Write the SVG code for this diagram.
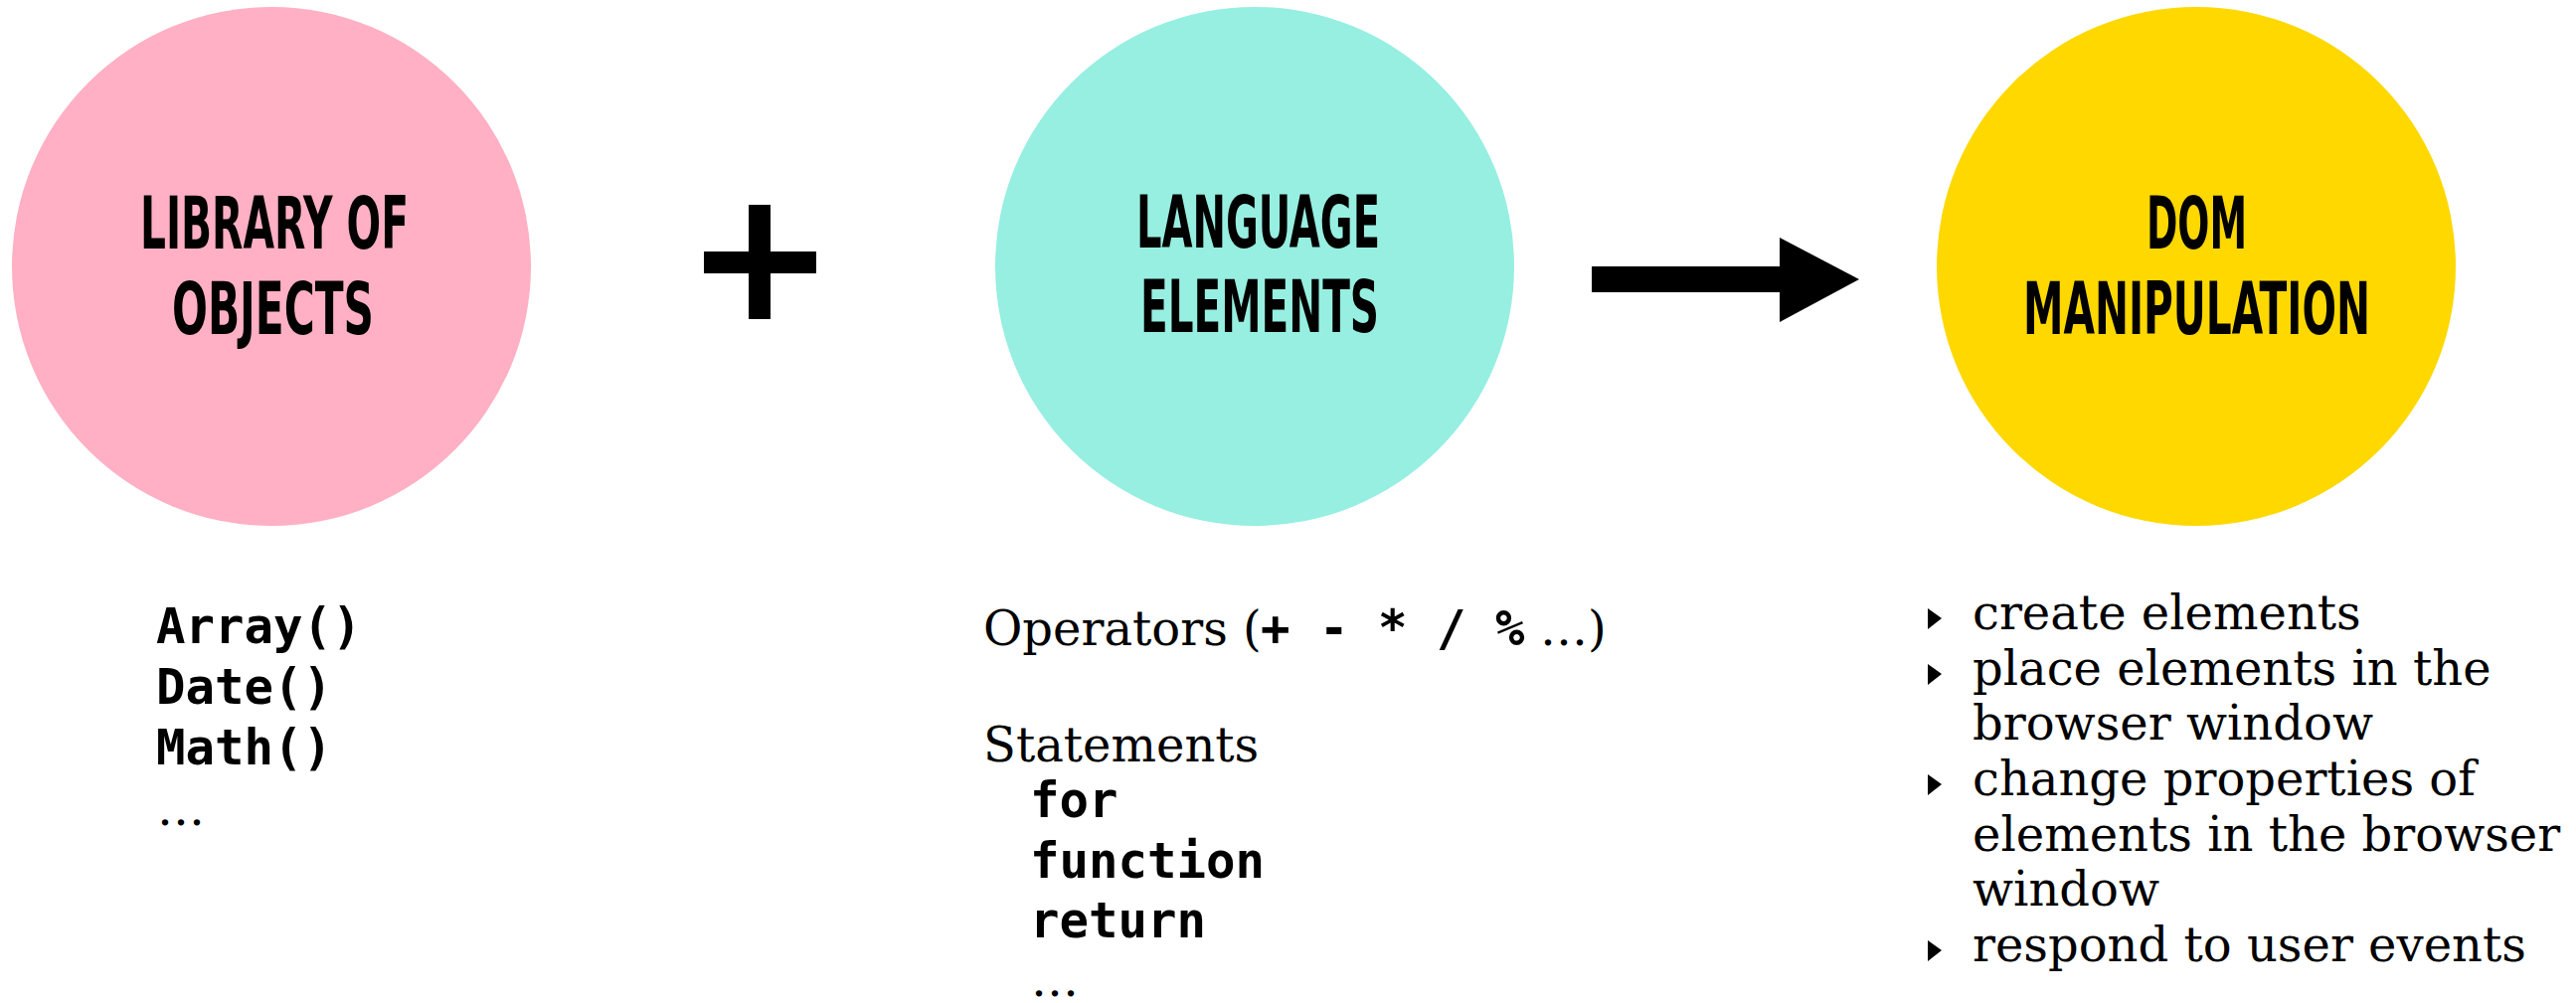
<svg xmlns="http://www.w3.org/2000/svg" width="2591" height="1009" viewBox="0 0 2591 1009">
<style>
.head{font-family:"DejaVu Sans Condensed","DejaVu Sans",sans-serif;font-weight:bold;font-size:73px;fill:#000}
.mono{font-family:"DejaVu Sans Mono",monospace;font-weight:bold;font-size:49px;fill:#000}
.serif{font-family:"DejaVu Serif","Liberation Serif",serif;font-size:48px;fill:#000}
.bul{fill:#000}
</style>
<rect width="2591" height="1009" fill="#fff"/>
<g id="node-library">
<circle cx="273" cy="268" r="261" fill="#FFB0C4"/>
<text class="head" x="141" y="250" textLength="270" lengthAdjust="spacingAndGlyphs">LIBRARY OF</text>
<text class="head" x="173" y="336" textLength="203" lengthAdjust="spacingAndGlyphs">OBJECTS</text>
<text class="mono" x="157" y="647">Array()</text>
<text class="mono" x="157" y="708">Date()</text>
<text class="mono" x="157" y="769">Math()</text>
<text class="serif" x="158" y="830">…</text>
</g>
<g id="node-language">
<circle cx="1262" cy="268" r="261" fill="#96EFE0"/>
<text class="head" x="1143" y="249" textLength="245" lengthAdjust="spacingAndGlyphs">LANGUAGE</text>
<text class="head" x="1147" y="334" textLength="240" lengthAdjust="spacingAndGlyphs">ELEMENTS</text>
<text class="serif" x="989" y="649">Operators (</text>
<text class="mono" x="1268" y="649">+ - * / %</text>
<text class="serif" x="1549" y="649">…)</text>
<text class="serif" x="989" y="766">Statements</text>
<text class="mono" x="1036" y="822">for</text>
<text class="mono" x="1036" y="883">function</text>
<text class="mono" x="1036" y="943">return</text>
<text class="serif" x="1037" y="1002">…</text>
</g>
<g id="node-dom">
<circle cx="2209" cy="268" r="261" fill="#FFD800"/>
<text class="head" x="2159" y="250" textLength="101" lengthAdjust="spacingAndGlyphs">DOM</text>
<text class="head" x="2035" y="336" textLength="349" lengthAdjust="spacingAndGlyphs">MANIPULATION</text>
<g class="bul">
<polygon points="1939,612 1953,622 1939,633"/>
<polygon points="1939,668 1953,678 1939,689"/>
<polygon points="1939,779 1953,789 1939,800"/>
<polygon points="1939,946 1953,956 1939,967"/>
</g>
<text class="serif" x="1984" y="633">create elements</text>
<text class="serif" x="1984" y="689">place elements in the</text>
<text class="serif" x="1984" y="744">browser window</text>
<text class="serif" x="1984" y="800">change properties of</text>
<text class="serif" x="1984" y="856">elements in the browser</text>
<text class="serif" x="1984" y="911">window</text>
<text class="serif" x="1984" y="967">respond to user events</text>
</g>
<g id="connectors">
<rect x="753" y="206" width="22" height="115" fill="#000"/>
<rect x="708" y="253" width="113" height="22" fill="#000"/>
<rect x="1601" y="268" width="190" height="26" fill="#000"/>
<polygon points="1790,239 1870,281 1790,324" fill="#000"/>
</g>
</svg>
